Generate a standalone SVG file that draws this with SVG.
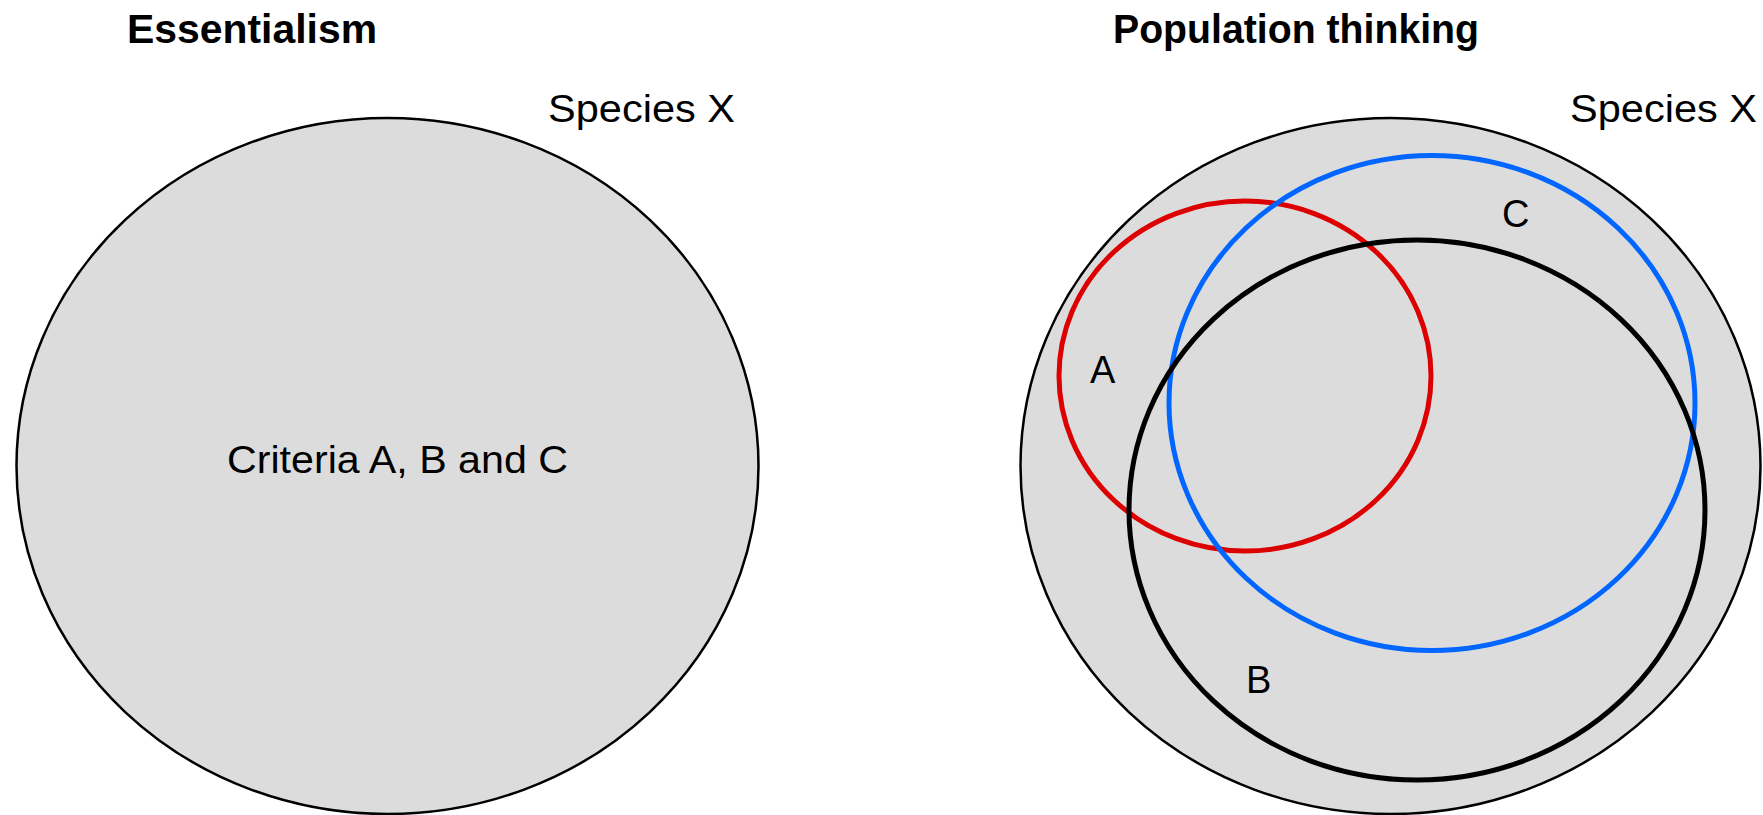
<svg xmlns="http://www.w3.org/2000/svg" width="1763" height="815" viewBox="0 0 1763 815">
<style>
  .title { font-family: "Liberation Sans", Arial, sans-serif; font-weight: bold; font-size: 40px; fill: #000; }
  .lbl { font-family: "Liberation Sans", Arial, sans-serif; font-size: 38px; fill: #000; }
  .outer { fill: #dcdcdc; stroke: #000; stroke-width: 2.5; }
  .ring { fill: none; stroke-width: 5; }
</style>
<rect width="1763" height="815" fill="#ffffff"/>
<g id="essentialism-title">
  <text class="title" x="127" y="43" font-size="41" textLength="250" lengthAdjust="spacingAndGlyphs">Essentialism</text>
</g>
<g id="population-title">
  <text class="title" x="1113" y="43" textLength="366" lengthAdjust="spacingAndGlyphs">Population thinking</text>
</g>
<g id="species-x-left">
  <ellipse class="outer" cx="387.5" cy="466" rx="371" ry="348"/>
  <text class="lbl" x="548" y="122" font-size="37" textLength="187" lengthAdjust="spacingAndGlyphs">Species X</text>
  <text class="lbl" x="227" y="473" textLength="341" lengthAdjust="spacingAndGlyphs">Criteria A, B and C</text>
</g>
<g id="species-x-right">
  <ellipse class="outer" cx="1390.5" cy="466" rx="370" ry="348"/>
  <text class="lbl" x="1570" y="122" font-size="37" textLength="187" lengthAdjust="spacingAndGlyphs">Species X</text>
</g>
<g id="criterion-a">
  <ellipse class="ring" stroke="#dd0000" cx="1245" cy="376" rx="186" ry="175"/>
  <text class="lbl" x="1090" y="383">A</text>
</g>
<g id="criterion-c">
  <ellipse class="ring" stroke="#0066ff" cx="1432" cy="403" rx="263" ry="247.5"/>
  <text class="lbl" x="1502" y="227">C</text>
</g>
<g id="criterion-b">
  <ellipse class="ring" stroke="#000000" cx="1417" cy="510" rx="288" ry="270"/>
  <text class="lbl" x="1246" y="693">B</text>
</g>
</svg>
